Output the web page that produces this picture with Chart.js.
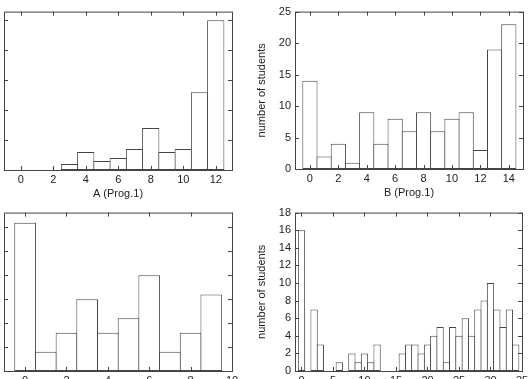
<!DOCTYPE html>
<html lang="en">
<head>
  <meta charset="UTF-8" />
  <title>Students per score</title>
  <script src="https://cdn.jsdelivr.net/npm/chart.js"></script>
  <style>
    html, body { margin: 0; padding: 0; background: #fff; }
    body { width: 528px; height: 379px; overflow: hidden; position: relative; }
    .panel { position: absolute; }
  </style>
</head>
<body>

  <div class="panel" id="wrapA1"><canvas id="chartA1"></canvas></div>
  <div class="panel" id="wrapB1"><canvas id="chartB1"></canvas></div>
  <div class="panel" id="wrapA2"><canvas id="chartA2"></canvas></div>
  <div class="panel" id="wrapB2"><canvas id="chartB2"></canvas></div>

  <script>
    // top left: A (Prog.1)
    const scoresA1 = [3, 4, 5, 6, 7, 8, 9, 10, 11, 12];
    const countsA1 = [2, 6, 3, 4, 7, 14, 6, 7, 26, 50];
    const xTicksA1 = [0, 2, 4, 6, 8, 10, 12];
    const yTicksA1 = [0, 10, 20, 30, 40, 50];

    // top right: B (Prog.1)
    const scoresB1 = [0, 1, 2, 3, 4, 5, 6, 7, 8, 9, 10, 11, 12, 13, 14];
    const countsB1 = [14, 2, 4, 1, 9, 4, 8, 6, 9, 6, 8, 9, 3, 19, 23];
    const xTicksB1 = [0, 2, 4, 6, 8, 10, 12, 14];
    const yTicksB1 = [0, 5, 10, 15, 20, 25];

    // bottom left
    const scoresA2 = [0, 1, 2, 3, 4, 5, 6, 7, 8, 9];
    const countsA2 = [31, 4, 8, 15, 8, 11, 20, 4, 8, 16];
    const xTicksA2 = [0, 2, 4, 6, 8, 10];
    const yTicksA2 = [0, 5, 10, 15, 20, 25, 30];

    // bottom right
    const scoresB2 = [0, 1, 2, 3, 4, 5, 6, 7, 8, 9, 10, 11, 12, 13, 14, 15, 16, 17,
                      18, 19, 20, 21, 22, 23, 24, 25, 26, 27, 28, 29, 30, 31, 32, 33, 34];
    const countsB2 = [16, 0, 7, 3, 0, 0, 1, 0, 2, 1, 2, 1, 3, 0, 0, 0, 2, 3,
                      3, 2, 3, 4, 5, 1, 5, 4, 6, 4, 7, 8, 10, 7, 5, 7, 3];
    const xTicksB2 = [0, 5, 10, 15, 20, 25, 30, 35];
    const yTicksB2 = [0, 2, 4, 6, 8, 10, 12, 14, 16, 18];

    const INK = '#444';
    Chart.defaults.font.family = "'Liberation Sans', Arial, sans-serif";
    Chart.defaults.font.size = 11;
    Chart.defaults.color = '#222';

    const YW = 40, PT = 8, PR = 12, XH = 31;

    // gnuplot style: full box with inward tick marks on all four sides
    const frameTicks = {
      id: 'frameTicks',
      afterDatasetsDraw(chart) {
        const { ctx, chartArea: a, scales: { x, y } } = chart;
        ctx.save();
        ctx.strokeStyle = INK;
        ctx.lineWidth = 1;
        ctx.beginPath();
        x.ticks.forEach(t => {
          const px = Math.round(x.getPixelForValue(t.value)) + 0.5;
          ctx.moveTo(px, a.bottom); ctx.lineTo(px, a.bottom - 4);
          ctx.moveTo(px, a.top); ctx.lineTo(px, a.top + 4);
        });
        y.ticks.forEach(t => {
          const py = Math.round(y.getPixelForValue(t.value)) + 0.5;
          ctx.moveTo(a.left, py); ctx.lineTo(a.left + 4, py);
          ctx.moveTo(a.right, py); ctx.lineTo(a.right - 4, py);
        });
        ctx.stroke();
        ctx.strokeRect(a.left + 0.5, a.top + 0.5, a.width, a.height);
        ctx.restore();
      }
    };

    function makeHist(id, frame, xs, ys, xTicks, yTicks, xMin, xMax, yMax, xTitle) {
      const wrap = document.getElementById('wrap' + id);
      const fw = frame.r - frame.l, fh = frame.b - frame.t;
      wrap.style.left = (frame.l - YW) + 'px';
      wrap.style.top = (frame.t - PT) + 'px';
      wrap.style.width = (fw + YW + PR) + 'px';
      wrap.style.height = (fh + PT + XH) + 'px';

      // bars one pixel wider than a bin so neighbouring edges share one line
      const ppu = fw / (xMax - xMin);

      new Chart(document.getElementById('chart' + id), {
        type: 'bar',
        data: {
          datasets: [{
            data: xs.map((v, i) => ({ x: v, y: ys[i] })),
            backgroundColor: '#fff',
            borderColor: INK,
            borderWidth: 1,
            borderSkipped: false,
            barPercentage: (ppu + 1) / ppu,
            categoryPercentage: 1
          }]
        },
        options: {
          responsive: true,
          maintainAspectRatio: false,
          animation: false,
          layout: { padding: { top: PT, right: PR, left: 0, bottom: 0 } },
          plugins: { legend: { display: false }, tooltip: { enabled: false } },
          scales: {
            x: {
              type: 'linear',
              offset: false,
              min: xMin,
              max: xMax,
              grid: { display: false, drawTicks: false, offset: false },
              border: { display: false },
              ticks: { padding: 3, maxRotation: 0 },
              afterBuildTicks: s => { s.ticks = xTicks.map(v => ({ value: v })); },
              afterFit: s => { s.height = XH; },
              title: { display: !!xTitle, text: xTitle, padding: 0, font: { size: 11 } }
            },
            y: {
              min: 0,
              max: yMax,
              grid: { display: false, drawTicks: false },
              border: { display: false },
              ticks: { padding: 4 },
              afterBuildTicks: s => { s.ticks = yTicks.map(v => ({ value: v })); },
              afterFit: s => { s.width = YW; },
              title: { display: true, text: 'number of students', padding: 0, font: { size: 11 } }
            }
          }
        },
        plugins: [frameTicks]
      });
    }

    makeHist('A1', { l: 4, t: 9, r: 232, b: 170 }, scoresA1, countsA1, xTicksA1, yTicksA1, -1.03, 13, 52.9, 'A (Prog.1)');
    makeHist('B1', { l: 295, t: 9, r: 523, b: 169 }, scoresB1, countsB1, xTicksB1, yTicksB1, -1.05, 15, 25, 'B (Prog.1)');
    makeHist('A2', { l: 4, t: 210, r: 232, b: 371 }, scoresA2, countsA2, xTicksA2, yTicksA2, -1.02, 10, 33.1, '');
    makeHist('B2', { l: 295, t: 210, r: 522, b: 371 }, scoresB2, countsB2, xTicksB2, yTicksB2, -1.03, 35, 18, '');
  </script>
</body>
</html>
